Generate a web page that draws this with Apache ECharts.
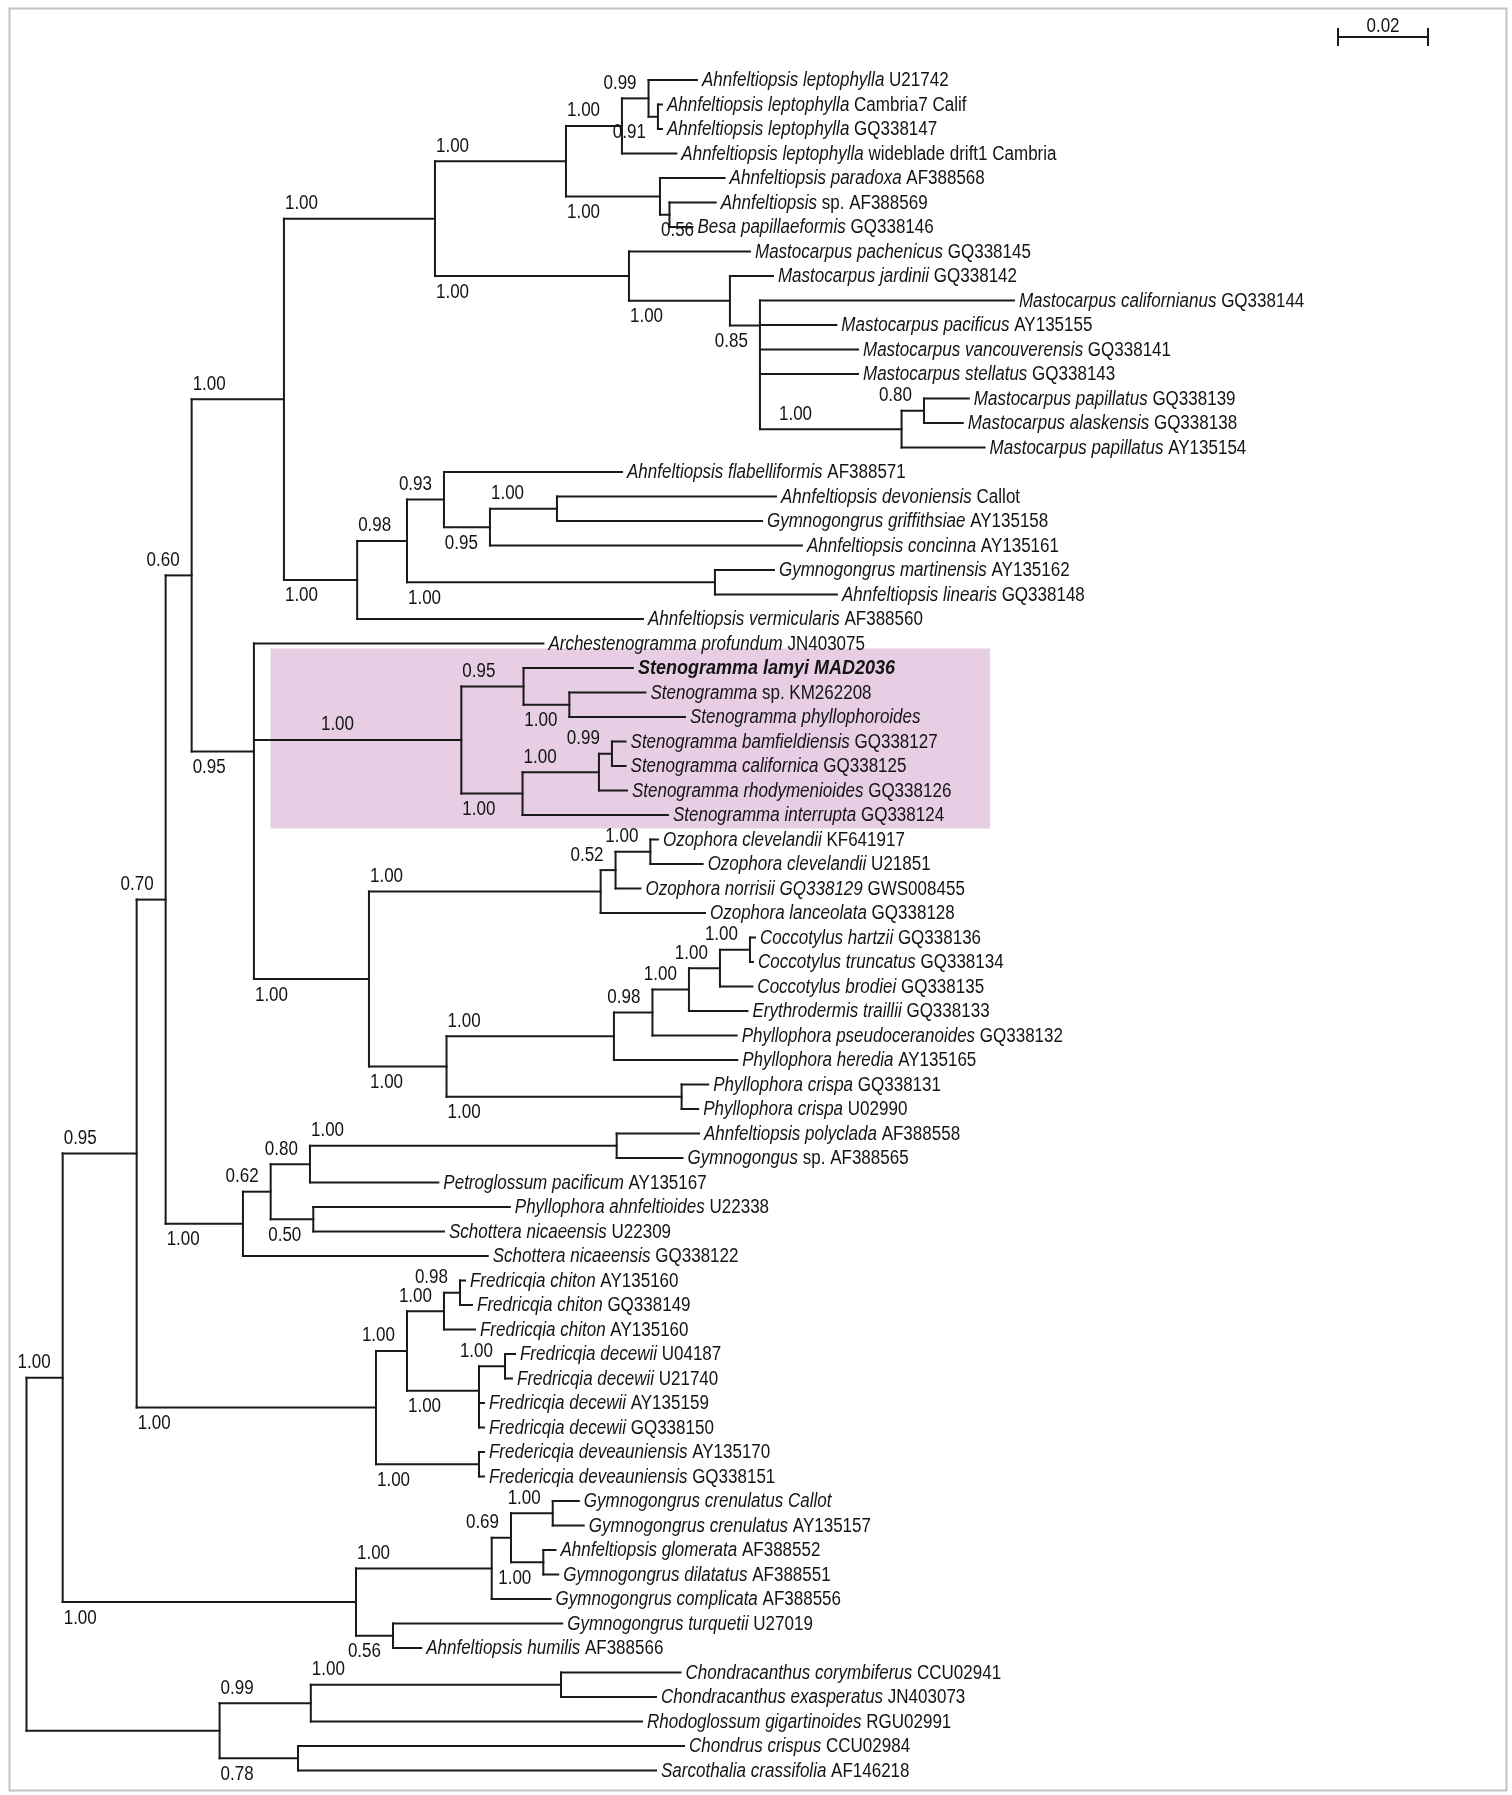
<!DOCTYPE html>
<html><head><meta charset="utf-8">
<script src="https://cdn.jsdelivr.net/npm/echarts@6/dist/echarts.min.js"></script>
<style>html,body{margin:0;padding:0;background:#fff}#chart{width:1512px;height:1795px}</style>
</head><body><div id="chart"></div>
<script>
// ================= DATA =================
// Internal nodes (clades): id, parent, branch length (substitutions/site), posterior probability
const cladeIds = ['root','N95','N70','Y','X','P1','A','B','C','D','E','F','G','M','M2','M3','M4','M5',
  'L','L2','L3','L4','L5','L6','SG','ST','ST1','ST2','ST4','ST5','ST6','OP','OZ','OZ2','OZ3','PH',
  'CG','CG2','CG3','CG4','CG5','PC','SCH','S2','S3','S5','S4','FC','FC1','FC2','FC2a','FC3','FC4','FC5',
  'GC','GC1','GC2','GC3','GC4','GC5','BC','BC1','BC3','BC2'];
const cladeParents = [null,'root','N95','N70','Y','X','P1','A','B','C','D','B','F','A','M','M2','M3','M4',
  'P1','L','L2','L3','L4','L2','X','SG','ST','ST1','ST','ST4','ST5','SG','OP','OZ','OZ2','OP',
  'PH','CG','CG2','CG3','CG4','PH','Y','SCH','S2','S3','S2','N70','FC','FC1','FC2','FC1','FC3','FC',
  'N95','GC','GC1','GC2','GC2','GC','root','BC','BC1','BC'];
const cladeLengths = [0,0.00804,0.01644,0.00644,0.00578,0.02051,0.03356,0.02911,0.01244,0.00591,0.00209,0.02089,0.00211,0.04311,0.02244,0.00667,0.03147,0.00498,
  0.01627,0.01107,0.00822,0.01022,0.01489,0.06844,0.01384,0.04609,0.01382,0.01018,0.01360,0.01698,0.00289,0.02556,0.05149,0.00331,0.00773,0.01724,
  0.03720,0.00856,0.00811,0.00689,0.00667,0.05224,0.01718,0.00616,0.00873,0.06816,0.00947,0.05318,0.00689,0.00822,0.00356,0.01600,0.00578,0.02289,
  0.06518,0.03016,0.00429,0.00927,0.00718,0.00822,0.04291,0.02027,0.05560,0.01742];
const cladeSupport = ['','1.00','0.95','0.70','0.60','1.00','1.00','1.00','1.00','0.99','0.91','1.00','0.56','1.00','1.00','0.85','1.00','0.80',
  '1.00','0.98','0.93','0.95','1.00','1.00','0.95','1.00','0.95','1.00','1.00','1.00','0.99','1.00','1.00','0.52','1.00','1.00',
  '1.00','0.98','1.00','1.00','1.00','1.00','1.00','0.62','0.80','1.00','0.50','1.00','1.00','1.00','0.98','1.00','1.00','1.00',
  '1.00','1.00','0.69','1.00','1.00','0.56','','0.99','1.00','0.78'];

// Terminal taxa, top to bottom
const tipTaxa = ['Ahnfeltiopsis leptophylla','Ahnfeltiopsis leptophylla','Ahnfeltiopsis leptophylla','Ahnfeltiopsis leptophylla',
  'Ahnfeltiopsis paradoxa','Ahnfeltiopsis','Besa papillaeformis','Mastocarpus pachenicus','Mastocarpus jardinii',
  'Mastocarpus californianus','Mastocarpus pacificus','Mastocarpus vancouverensis','Mastocarpus stellatus',
  'Mastocarpus papillatus','Mastocarpus alaskensis','Mastocarpus papillatus','Ahnfeltiopsis flabelliformis',
  'Ahnfeltiopsis devoniensis','Gymnogongrus griffithsiae','Ahnfeltiopsis concinna','Gymnogongrus martinensis',
  'Ahnfeltiopsis linearis','Ahnfeltiopsis vermicularis','Archestenogramma profundum','Stenogramma lamyi MAD2036',
  'Stenogramma','Stenogramma phyllophoroides','Stenogramma bamfieldiensis','Stenogramma californica',
  'Stenogramma rhodymenioides','Stenogramma interrupta','Ozophora clevelandii','Ozophora clevelandii',
  'Ozophora norrisii GQ338129','Ozophora lanceolata','Coccotylus hartzii','Coccotylus truncatus','Coccotylus brodiei',
  'Erythrodermis traillii','Phyllophora pseudoceranoides','Phyllophora heredia','Phyllophora crispa','Phyllophora crispa',
  'Ahnfeltiopsis polyclada','Gymnogongus','Petroglossum pacificum','Phyllophora ahnfeltioides','Schottera nicaeensis',
  'Schottera nicaeensis','Fredricqia chiton','Fredricqia chiton','Fredricqia chiton','Fredricqia decewii',
  'Fredricqia decewii','Fredricqia decewii','Fredricqia decewii','Fredericqia deveauniensis','Fredericqia deveauniensis',
  'Gymnogongrus crenulatus Callot','Gymnogongrus crenulatus','Ahnfeltiopsis glomerata','Gymnogongrus dilatatus',
  'Gymnogongrus complicata','Gymnogongrus turquetii','Ahnfeltiopsis humilis','Chondracanthus corymbiferus',
  'Chondracanthus exasperatus','Rhodoglossum gigartinoides','Chondrus crispus','Sarcothalia crassifolia'];
const tipAccessions = ['U21742','Cambria7 Calif','GQ338147','wideblade drift1 Cambria','AF388568','sp. AF388569','GQ338146',
  'GQ338145','GQ338142','GQ338144','AY135155','GQ338141','GQ338143','GQ338139','GQ338138','AY135154','AF388571','Callot',
  'AY135158','AY135161','AY135162','GQ338148','AF388560','JN403075','','sp. KM262208','','GQ338127','GQ338125','GQ338126',
  'GQ338124','KF641917','U21851','GWS008455','GQ338128','GQ338136','GQ338134','GQ338135','GQ338133','GQ338132','AY135165',
  'GQ338131','U02990','AF388558','sp. AF388565','AY135167','U22338','U22309','GQ338122','AY135160','GQ338149','AY135160',
  'U04187','U21740','AY135159','GQ338150','AY135170','GQ338151','','AY135157','AF388552','AF388551','AF388556','U27019',
  'AF388566','CCU02941','JN403073','RGU02991','CCU02984','AF146218'];
const tipParents = ['D','E','E','C','F','G','G','M','M2','M3','M3','M3','M3','M5','M5','M4','L3','L5','L5','L4','L6','L6','L',
  'SG','ST1','ST2','ST2','ST6','ST6','ST5','ST4','OZ3','OZ3','OZ2','OZ','CG5','CG5','CG4','CG3','CG2','CG','PC','PC',
  'S5','S5','S3','S4','S4','SCH','FC2a','FC2a','FC2','FC4','FC4','FC3','FC3','FC5','FC5','GC3','GC3','GC4','GC4','GC1',
  'GC5','GC5','BC3','BC3','BC1','BC2','BC2'];
const tipLengths = [0.01076,0.00089,0.00089,0.01209,0.01436,0.01027,0.00511,0.02689,0.00956,0.05644,0.01698,0.02178,0.02178,
  0.00996,0.00862,0.01844,0.03956,0.04867,0.04556,0.06933,0.01311,0.02711,0.06351,0.06433,0.02431,0.01691,0.02569,0.00302,
  0.00302,0.00622,0.03231,0.00169,0.01162,0.00553,0.02318,0.00111,0.00067,0.00720,0.01300,0.01871,0.02740,0.00591,0.00369,
  0.01829,0.01462,0.02853,0.04367,0.02904,0.05440,0.00111,0.00267,0.00689,0.00222,0.00156,0.00111,0.00111,0.00111,0.00111,
  0.00580,0.00689,0.00271,0.00331,0.01309,0.03760,0.00627,0.02656,0.02111,0.07360,0.08578,0.07956];
const highlightedTaxon = 'Stenogramma lamyi MAD2036';
const highlightedClade = 'ST';
const scaleBarValue = 0.02;
const scaleBarLabel = '0.02';

// ================= STYLE / LAYOUT =================
const FONT_FAMILY = '"Liberation Sans", Arial, Helvetica, sans-serif';
const FONT_SIZE = 20;
const NARROW = 0.85;            // condensed face emulation
const NARROW_BOLD = 0.9;
const LINE_COLOR = '#1a1a1a';
const TEXT_COLOR = '#141414';
const LW = 2;
// hand-placed support labels in the original figure
const labelOverrides = {
  M4: {side: 'above', dx: 19},
  G:  {dx: 1},
  ST: {dx: 67}
};

// ================= TREE BUILD =================
const nodes = {};
cladeIds.forEach((id, i) => {
  nodes[id] = {id, parent: cladeParents[i], len: cladeLengths[i], support: cladeSupport[i], tip: false, children: []};
});
tipTaxa.forEach((t, i) => {
  const id = 'tip' + i;
  nodes[id] = {id, parent: tipParents[i], len: tipLengths[i], tip: true, row: i, taxon: t, acc: tipAccessions[i], children: []};
});
Object.values(nodes).forEach(n => { if (n.parent) nodes[n.parent].children.push(n); });
const root = nodes.root;
function setDepth(n, d) { n.depth = d + n.len; n.children.forEach(c => setDepth(c, n.depth)); }
setDepth(root, 0);
function rowRange(n) {
  if (n.tip) { n.minRow = n.maxRow = n.row; return; }
  n.children.forEach(rowRange);
  n.minRow = Math.min(...n.children.map(c => c.minRow));
  n.maxRow = Math.max(...n.children.map(c => c.maxRow));
  n.children.sort((a, b) => a.minRow - b.minRow);
}
rowRange(root);
function setY(n) {
  if (n.tip) { n.y = n.row; return; }
  n.children.forEach(setY);
  let f = n.children[n.children.length - 1].y;
  for (let i = n.children.length - 2; i >= 0; i--) f = (n.children[i].y + f) / 2;
  n.y = f;
}
setY(root);
const order = [];
(function walk(n) { order.push(n); n.children.forEach(walk); })(root);

const measureCtx = document.createElement('canvas').getContext('2d');
function textWidth(t) { measureCtx.font = FONT_SIZE + 'px ' + FONT_FAMILY; return measureCtx.measureText(t).width * NARROW; }

const seriesData = order.map(n => {
  const p = n.parent ? nodes[n.parent] : null;
  const first = n.tip ? n.y : n.children[0].y;
  const last = n.tip ? n.y : n.children[n.children.length - 1].y;
  return [n.depth, n.y, p ? p.depth : n.depth, first, last];
});

function isFirstChild(n) { const p = nodes[n.parent]; return p && p.children[0] === n; }
function isLastChild(n) { const p = nodes[n.parent]; return p && p.children[p.children.length - 1] === n; }

const richStyles = {
  i: {fontStyle: 'italic', fontFamily: FONT_FAMILY, fontSize: FONT_SIZE, fill: TEXT_COLOR},
  n: {fontStyle: 'normal', fontFamily: FONT_FAMILY, fontSize: FONT_SIZE, fill: TEXT_COLOR},
  b: {fontStyle: 'italic', fontWeight: 'bold', fontFamily: FONT_FAMILY, fontSize: FONT_SIZE, fill: TEXT_COLOR}
};

const chart = echarts.init(document.getElementById('chart'), null, {renderer: 'canvas'});
const hl = nodes[highlightedClade];

chart.setOption({
  animation: false,
  backgroundColor: '#ffffff',
  grid: {left: 26.5, width: 1350, top: 80, height: 1690.5},
  xAxis: {type: 'value', min: 0, max: 0.3, show: false},
  yAxis: {type: 'value', min: 0, max: 69, inverse: true, show: false},
  graphic: [{
    type: 'rect', left: 7, top: 6, z: -10,
    shape: {width: 1497, height: 1782},
    style: {fill: 'none', stroke: '#c2c2c2', lineWidth: 2}
  }],
  series: [
    { // highlight box around the Stenogramma clade
      type: 'custom', coordinateSystem: 'cartesian2d', clip: false, z: 1, silent: true,
      data: [[nodes[hl.parent].depth, hl.minRow, 0.2141, hl.maxRow]],
      renderItem(params, api) {
        const a = api.coord([api.value(0) + 0.00367, api.value(1) - 0.8]);
        const b = api.coord([api.value(2), api.value(3) + 0.55]);
        return {type: 'rect', shape: {x: a[0], y: a[1], width: b[0] - a[0], height: b[1] - a[1]},
          style: {fill: '#e7cee4'}};
      }
    },
    { // tree
      type: 'custom', coordinateSystem: 'cartesian2d', clip: false, z: 2, silent: true,
      data: seriesData,
      renderItem(params, api) {
        const n = order[params.dataIndex];
        const els = [];
        const pt = api.coord([api.value(0), api.value(1)]);
        const lineStyle = {stroke: LINE_COLOR, lineWidth: LW, lineCap: 'square'};
        if (n.parent) {
          const pp = api.coord([api.value(2), api.value(1)]);
          els.push({type: 'line', shape: {x1: pp[0], y1: pp[1], x2: pt[0], y2: pt[1]}, style: lineStyle});
        }
        if (!n.tip) {
          const a = api.coord([api.value(0), api.value(3)]);
          const b = api.coord([api.value(0), api.value(4)]);
          els.push({type: 'line', shape: {x1: a[0], y1: a[1], x2: b[0], y2: b[1]}, style: lineStyle});
        }
        if (n.tip) {
          let txt, sx = NARROW;
          if (n.taxon === highlightedTaxon) { txt = '{b|' + n.taxon + '}'; sx = NARROW_BOLD; }
          else txt = '{i|' + n.taxon + '}' + (n.acc ? '{n| ' + n.acc + '}' : '');
          els.push({type: 'text', x: pt[0] + 5, y: pt[1] + 0.5, scaleX: sx,
            style: {x: 0, y: 0, text: txt, rich: richStyles, fontFamily: FONT_FAMILY, fontSize: FONT_SIZE,
              fill: TEXT_COLOR, align: 'left', verticalAlign: 'middle'}});
        } else if (n.support && n.parent) {
          const ov = labelOverrides[n.id] || {};
          const w = textWidth(n.support);
          const ppx = api.coord([api.value(2), api.value(1)])[0];
          let left = Math.min(ppx + 1, pt[0] - w - 12);
          if (ov.dx !== undefined) left = ppx + ov.dx;
          const side = ov.side || (isLastChild(n) && !isFirstChild(n) ? 'below' : 'above');
          const yy = side === 'above' ? pt[1] - 15 : pt[1] + 16;
          els.push({type: 'text', x: left, y: yy, scaleX: NARROW,
            style: {x: 0, y: 0, text: n.support, fontFamily: FONT_FAMILY, fontSize: FONT_SIZE, fill: TEXT_COLOR,
              align: 'left', verticalAlign: 'middle'}});
        }
        return {type: 'group', children: els};
      }
    },
    { // scale bar
      type: 'custom', coordinateSystem: 'cartesian2d', clip: false, z: 3, silent: true,
      data: [[scaleBarValue]],
      renderItem(params, api) {
        const len = api.size([api.value(0), 0])[0];
        const x0 = 1338, y0 = 37;
        const st = {stroke: LINE_COLOR, lineWidth: LW};
        return {type: 'group', children: [
          {type: 'line', shape: {x1: x0, y1: y0, x2: x0 + len, y2: y0}, style: st},
          {type: 'line', shape: {x1: x0, y1: y0 - 9, x2: x0, y2: y0 + 9}, style: st},
          {type: 'line', shape: {x1: x0 + len, y1: y0 - 9, x2: x0 + len, y2: y0 + 9}, style: st},
          {type: 'text', x: x0 + len / 2, y: y0 - 1, scaleX: NARROW,
            style: {x: 0, y: 0, text: scaleBarLabel, fontFamily: FONT_FAMILY, fontSize: FONT_SIZE, fill: TEXT_COLOR,
              align: 'center', verticalAlign: 'bottom'}}
        ]};
      }
    }
  ]
});
</script>
</body></html>
